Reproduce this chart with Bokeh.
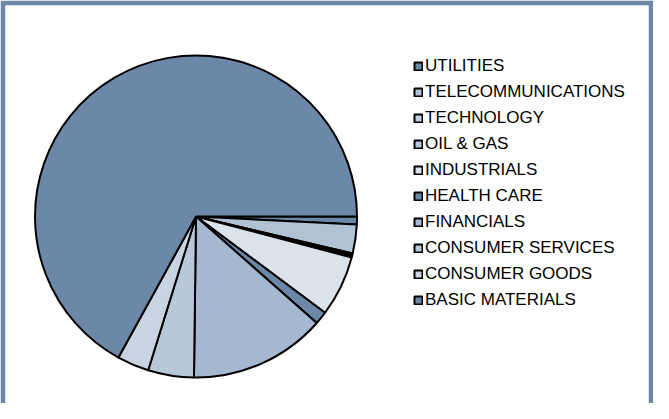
import numpy as np
from bokeh.plotting import figure
from bokeh.models import ColumnDataSource, Range1d
from bokeh.embed import file_html
from bokeh.resources import INLINE

sectors = ["UTILITIES", "TELECOMMUNICATIONS", "TECHNOLOGY", "OIL & GAS",
           "INDUSTRIALS", "HEALTH CARE", "FINANCIALS", "CONSUMER SERVICES",
           "CONSUMER GOODS", "BASIC MATERIALS"]
weights = [0.8, 2.9, 0.2, 0.2, 6.1, 1.3, 13.7, 4.6, 3.2, 67.0]
colors = ["#6B88A8", "#B2C2D5", "#C4D0DE", "#B6C6D7", "#DAE2EA",
          "#6B88A8", "#A6B8D0", "#B8C8D9", "#C8D4E1", "#6B88A8"]

frac = np.array(weights) / np.sum(weights)
cum = np.concatenate([[0.0], np.cumsum(frac)]) * 2 * np.pi
src = ColumnDataSource(dict(
    sector=sectors,
    start=-cum[:-1],
    end=-cum[1:],
    color=colors,
))

R = 161.0
cx, cy = 203.5, 224.0  # screen px
W, H = 653, 403
fl, ft, fr = 13, 13, 8 + W - 5  # frame edges on screen
fb = 8 + H

p = figure(width=W, height=H, output_backend="svg", toolbar_location=None,
           x_axis_type=None, y_axis_type=None,
           x_range=Range1d((fl - cx) / R, (fr - cx) / R),
           y_range=Range1d(-(fb - cy) / R, (cy - ft) / R))
p.min_border_left = 5
p.min_border_right = 5
p.min_border_top = 5
p.min_border_bottom = 0
p.border_fill_color = "#6B88A8"
p.background_fill_color = "white"
p.outline_line_color = None
p.grid.visible = False

p.wedge(x=0, y=0, radius=1.0, start_angle="start", end_angle="end",
        direction="clock", fill_color="color", line_color="black",
        line_width=2, source=src, legend_field="sector")

lg = p.legend[0]
lg.border_line_color = None
lg.background_fill_alpha = 0
lg.padding = 0
lg.margin = 0
lg.spacing = 6
lg.label_height = 20
lg.glyph_height = 10
lg.glyph_width = 10
lg.label_standoff = 2
lg.label_text_font = "Liberation Sans"
lg.label_text_font_size = "17px"
lg.label_text_color = "black"
legend_top = 64
legend_h = 10 * 20 + 9 * 6
lg.location = (421 - fl, fb - (legend_top + legend_h))

open("out.html", "w").write(file_html(p, INLINE))
